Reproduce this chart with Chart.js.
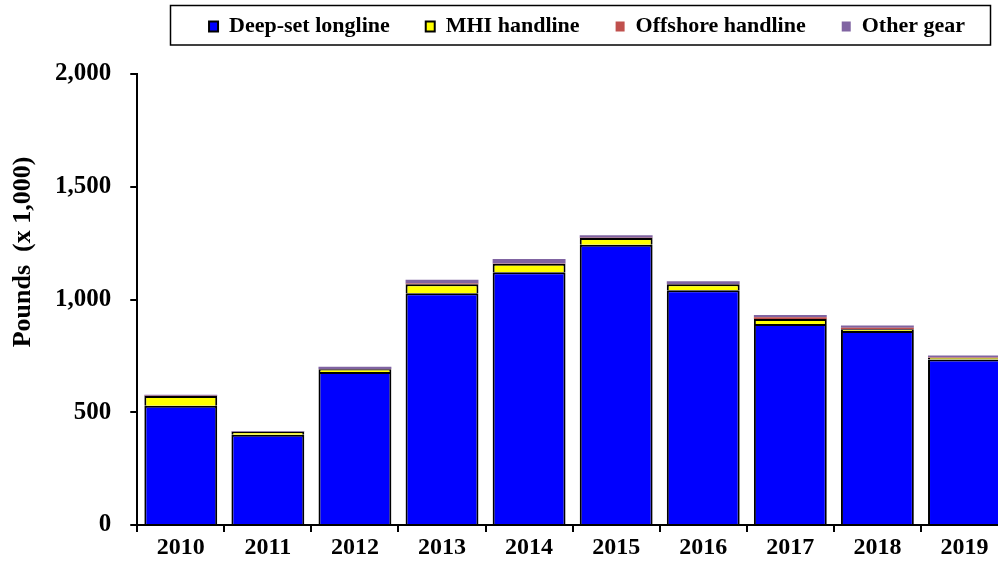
<!DOCTYPE html>
<html><head><meta charset="utf-8">
<script src="https://cdn.jsdelivr.net/npm/chart.js@4.4.0/dist/chart.umd.min.js"></script>
<style>html,body{margin:0;padding:0;overflow:hidden;background:#fff;width:998px;height:564px}canvas{display:block}</style>
</head><body>
<canvas id="c" width="1010" height="564"></canvas>
<script>
const years = ['2010','2011','2012','2013','2014','2015','2016','2017','2018','2019'];
const deepSetLongline = [529, 400, 679, 1028, 1121, 1243, 1041, 891, 860, 734];
const mhiHandline = [43, 13, 12, 40, 37, 30, 27, 22, 8, 8];
const offshoreHandline = [1, 1, 1, 3, 2, 1, 1, 8, 7, 2];
const otherGear = [5, 3, 10, 17, 20, 11, 12, 10, 10, 8];
const seriesNames = ['Deep-set longline', 'MHI handline', 'Offshore handline', 'Other gear'];
const yAxisTitle = 'Pounds  (x 1,000)';
const yMin = 0, yMax = 2000, yStep = 500;

const FONT = '"Liberation Serif", "Times New Roman", serif';

const chartDecor = {
  id: 'chartDecor',
  afterLayout(chart) {
    const lg = chart.legend;
    const h = lg.height;
    lg.left = 166; lg.right = 1008; lg.width = lg.right - lg.left;
    lg.top = -20.5; lg.bottom = lg.top + h;
  },
  afterDraw(chart) {
    const ctx = chart.ctx;
    ctx.save();
    ctx.strokeStyle = '#000';
    ctx.lineWidth = 1.5;
    ctx.strokeRect(170.5, 5.5, 820, 39.5);
    ctx.translate(23, 252);
    ctx.rotate(-Math.PI / 2);
    ctx.fillStyle = '#000';
    ctx.font = 'bold 26px ' + FONT;
    ctx.textAlign = 'center';
    ctx.textBaseline = 'middle';
    ctx.fillText(yAxisTitle, 0, 0);
    ctx.restore();
  }
};

new Chart(document.getElementById('c'), {
  type: 'bar',
  data: {
    labels: years,
    datasets: [
      {label: seriesNames[0], data: deepSetLongline, backgroundColor: '#0000FF', borderColor: '#000', borderWidth: 2},
      {label: seriesNames[1], data: mhiHandline, backgroundColor: '#FFFF00', borderColor: '#000', borderWidth: 2},
      {label: seriesNames[2], data: offshoreHandline, backgroundColor: '#C0504D', borderWidth: 0},
      {label: seriesNames[3], data: otherGear, backgroundColor: '#8064A2', borderWidth: 0}
    ]
  },
  options: {
    responsive: false,
    animation: false,
    devicePixelRatio: 1,
    barPercentage: 0.837,
    categoryPercentage: 1,
    layout: {padding: {top: 6, right: 2, bottom: 0, left: 36}},
    plugins: {
      tooltip: {enabled: false},
      legend: {
        position: 'top',
        labels: {
          boxWidth: 9, boxHeight: 10, padding: 36,
          color: '#000',
          font: {family: FONT, size: 22, weight: 'bold'}
        }
      }
    },
    scales: {
      x: {
        stacked: true,
        grid: {offset: true, drawOnChartArea: false, tickLength: 7, color: '#000', lineWidth: 2},
        border: {color: '#000', width: 2},
        ticks: {color: '#000', font: {family: FONT, size: 24, weight: 'bold', lineHeight: 1.0}, padding: 4, maxRotation: 0, autoSkip: false}
      },
      y: {
        stacked: true,
        min: yMin, max: yMax,
        grid: {drawOnChartArea: false, tickLength: 7, color: '#000', lineWidth: 2},
        border: {color: '#000', width: 2},
        ticks: {
          stepSize: yStep, color: '#000', padding: 19,
          font: {family: FONT, size: 25, weight: 'bold'},
          callback: v => v.toLocaleString('en-US')
        }
      }
    }
  },
  plugins: [chartDecor]
});
</script>
</body></html>
